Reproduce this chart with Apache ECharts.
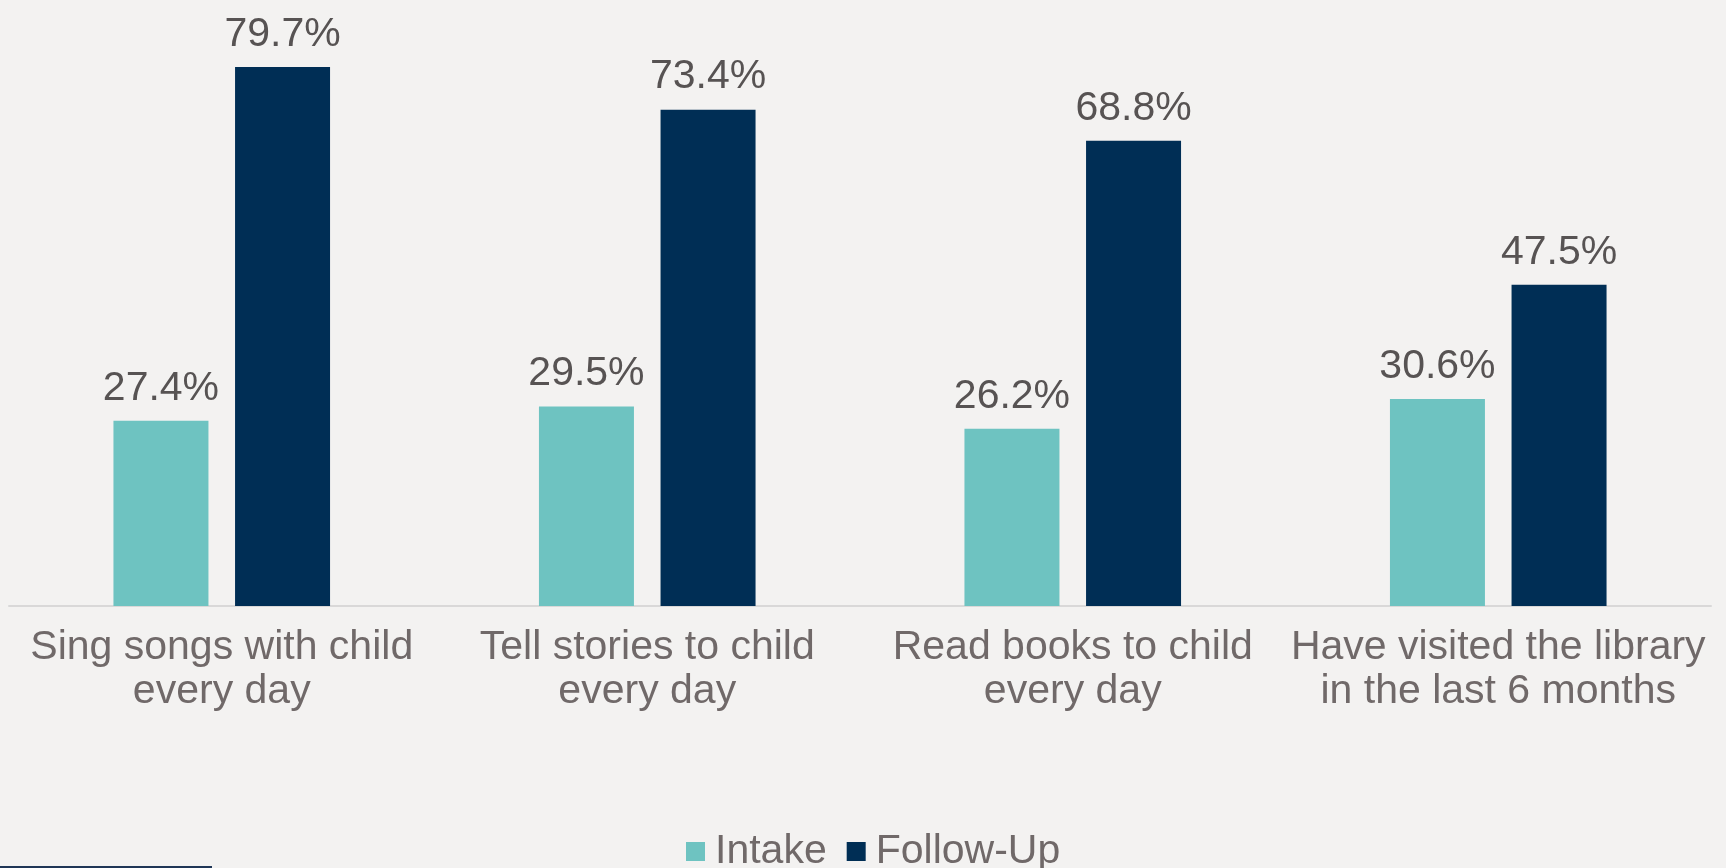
<!DOCTYPE html>
<html>
<head>
<meta charset="utf-8">
<script src="https://cdn.jsdelivr.net/npm/echarts@6/dist/echarts.min.js"></script>
<style>
  html, body { margin: 0; padding: 0; background: #f3f2f1; }
  #chart { width: 1726px; height: 868px; }
</style>
</head>
<body>
<div id="chart"></div>
<script>
const categories = [
  "Sing songs with child\nevery day",
  "Tell stories to child\nevery day",
  "Read books to child\nevery day",
  "Have visited the library\nin the last 6 months"
];
const seriesNames = ["Intake", "Follow-Up"];
const intakeValues = [27.4, 29.5, 26.2, 30.6];
const followUpValues = [79.7, 73.4, 68.8, 47.5];

const chart = echarts.init(document.getElementById('chart'), null, { renderer: 'canvas' });
const FONT = '"Liberation Sans", Arial, Helvetica, sans-serif';
const valueLabel = {
  show: true,
  position: 'top',
  distance: 12,
  fontFamily: FONT,
  fontSize: 41,
  color: '#575353',
  formatter: p => p.value.toFixed(1) + '%'
};
chart.setOption({
  backgroundColor: '#f3f2f1',
  animation: false,
  textStyle: { fontFamily: FONT },
  grid: { left: 9, right: 15, top: 65, bottom: 262, outerBoundsMode: 'none' },
  legend: {
    data: seriesNames,
    left: 681,
    top: 826,
    itemWidth: 19,
    itemHeight: 19,
    itemGap: 20,
    icon: 'rect',
    textStyle: { fontFamily: FONT, fontSize: 41, color: '#706969', padding: [0, 0, 0, 5] }
  },
  xAxis: {
    type: 'category',
    data: categories,
    axisLine: { show: true, lineStyle: { color: '#d9d8d8', width: 2 } },
    axisTick: { show: false },
    axisLabel: {
      interval: 0,
      margin: 20,
      fontFamily: FONT,
      fontSize: 41,
      lineHeight: 44,
      color: '#706969',
      align: 'center'
    }
  },
  yAxis: {
    type: 'value',
    min: 0,
    max: 80,
    show: false,
    splitLine: { show: false }
  },
  series: [
    {
      name: seriesNames[0],
      type: 'bar',
      data: intakeValues,
      barWidth: 95,
      barGap: '28%',
      itemStyle: { color: '#6ec3c1' },
      label: valueLabel
    },
    {
      name: seriesNames[1],
      type: 'bar',
      data: followUpValues,
      barWidth: 95,
      barGap: '28%',
      itemStyle: { color: '#002e55' },
      label: valueLabel
    }
  ],
  graphic: [
    { type: 'rect', left: 0, top: 866, shape: { width: 212, height: 2 }, style: { fill: '#1f3656' } }
  ]
});
</script>
</body>
</html>
